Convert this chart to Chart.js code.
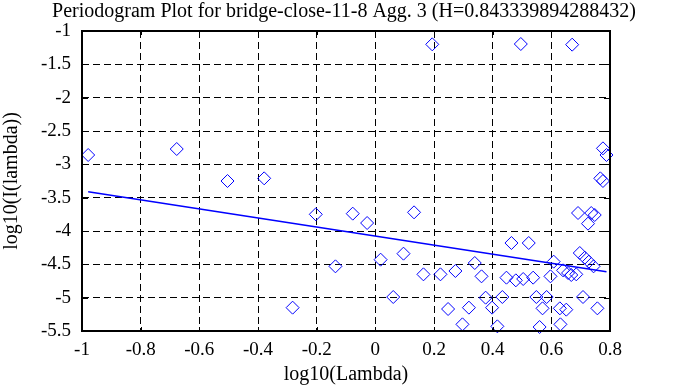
<!DOCTYPE html>
<html>
<head>
<style>
	html, body { margin: 0; padding: 0; background: #fff; }
	#wrap { width: 688px; height: 387px; }
</style>
</head>
<body>
<div id="wrap"><canvas id="myChart" width="688" height="387"></canvas></div>
<script src="https://cdn.jsdelivr.net/npm/chart.js"></script>
<script>
// periodogram points
const logLambda = [-0.979, -0.677, -0.504, -0.379, 0.194, 0.496, 0.671, 0.776, 0.788, 0.767, 0.776,
	-0.203, -0.077, -0.028, 0.132, -0.136, 0.018, 0.096, -0.282, 0.061, 0.164, 0.222, 0.273, 0.248, 0.297,
	0.691, 0.736, 0.748, 0.725, 0.464, 0.523, 0.697, 0.714, 0.728, 0.744, 0.608, 0.339, 0.362, 0.447,
	0.479, 0.504, 0.538, 0.597, 0.640, 0.657, 0.668, 0.685, 0.376, 0.433, 0.549, 0.584, 0.708, 0.319,
	0.398, 0.570, 0.629, 0.651, 0.757, 0.416, 0.560, 0.631]
const logI = [-2.86, -2.77, -3.25, -3.21, -1.20, -1.195, -1.205, -2.76, -2.86, -3.21, -3.25,
	-3.75, -3.74, -3.88, -3.72, -4.53, -4.43, -4.34, -5.15, -4.99, -4.65, -4.65, -4.60, -5.17, -5.40,
	-3.73, -3.73, -3.76, -3.89, -4.18, -4.18, -4.33, -4.40, -4.46, -4.53, -4.46, -4.48, -4.68, -4.70,
	-4.74, -4.72, -4.70, -4.68, -4.59, -4.63, -4.66, -4.65, -5.00, -4.99, -4.99, -4.99, -4.99, -5.15,
	-5.15, -5.16, -5.16, -5.18, -5.16, -5.43, -5.44, -5.40]
// fitted line end points
const fitX = [-0.979, 0.788]
const fitY = [-3.41, -4.61]
const xTicks = [-1, -0.8, -0.6, -0.4, -0.2, 0, 0.2, 0.4, 0.6, 0.8]
const yTicks = [-1, -1.5, -2, -2.5, -3, -3.5, -4, -4.5, -5, -5.5]

const serif = 'Liberation Serif'
const blue = 'rgb(0,0,255)'

// frame on all four sides + little inward ticks
const framePlugin = {
	id: 'frame',
	afterDatasetsDraw(chart) {
		const {ctx, chartArea: a, scales} = chart
		ctx.save()
		ctx.strokeStyle = '#000'
		ctx.lineWidth = 1
		xTicks.forEach(v => {
			const px = Math.round(scales.x.getPixelForValue(v)) + 0.5
			ctx.beginPath(); ctx.moveTo(px, a.top); ctx.lineTo(px, a.top + 4)
			ctx.moveTo(px, a.bottom); ctx.lineTo(px, a.bottom - 4); ctx.stroke()
		})
		yTicks.forEach(v => {
			const py = Math.round(scales.y.getPixelForValue(v)) + 0.5
			ctx.beginPath(); ctx.moveTo(a.left, py); ctx.lineTo(a.left + 6, py)
			ctx.moveTo(a.right, py); ctx.lineTo(a.right - 6, py); ctx.stroke()
		})
		ctx.lineWidth = 2
		ctx.strokeRect(a.left, a.top, a.right - a.left, a.bottom - a.top)
		ctx.restore()
	}
}

const data = {
	datasets: [
		{
			type: 'scatter',
			data: logLambda.map((x, i) => ({x: x, y: logI[i]})),
			pointStyle: 'rectRot',
			pointRadius: 6.5,
			pointBorderWidth: 1,
			borderColor: blue,
			backgroundColor: 'rgba(0,0,0,0)',
			clip: false,
		},
		{
			type: 'line',
			data: fitX.map((x, i) => ({x: x, y: fitY[i]})),
			borderColor: blue,
			borderWidth: 1.5,
			pointRadius: 0,
			fill: false,
		}
	]
}

const config = {
	type: 'scatter',
	data: data,
	options: {
		responsive: false,
		animation: false,
		layout: {padding: 0},
		plugins: {
			legend: {display: false},
			tooltip: {enabled: false},
			title: {
				display: true,
				text: 'Periodogram Plot for bridge-close-11-8 Agg. 3 (H=0.843339894288432)',
				color: '#000',
				font: {family: serif, size: 20, weight: 'normal'},
				padding: {top: 0, bottom: 7},
			}
		},
		scales: {
			x: {
				type: 'linear',
				min: -1, max: 0.8,
				afterBuildTicks: s => { s.ticks = xTicks.map(v => ({value: v})) },
				afterFit: s => { s.height = 56 },
				ticks: {
					color: '#000', font: {family: serif, size: 19}, padding: 8, maxRotation: 0,
					callback: v => String(Math.round(v * 10) / 10)
				},
				grid: {color: '#000', lineWidth: 1, drawTicks: false},
				border: {display: false, dash: [7, 4]},
				title: {display: true, text: 'log10(Lambda)', color: '#000', font: {family: serif, size: 20}, padding: {top: 0, bottom: 0}}
			},
			y: {
				type: 'linear',
				min: -5.5, max: -1,
				afterBuildTicks: s => { s.ticks = yTicks.map(v => ({value: v})) },
				afterFit: s => { s.width = 82 },
				ticks: {
					color: '#000', font: {family: serif, size: 19}, padding: 11,
					callback: v => String(Math.round(v * 10) / 10)
				},
				grid: {color: '#000', lineWidth: 1, drawTicks: false},
				border: {display: false, dash: [7, 4]},
				title: {display: true, text: 'log10(I(lambda))', color: '#000', font: {family: serif, size: 20}, padding: {top: 0, bottom: 2}}
			},
			// empty strip on the right so the plot ends where the reference does
			yr: {
				type: 'linear',
				position: 'right',
				min: -5.5, max: -1,
				afterFit: s => { s.width = 78 },
				ticks: {display: false},
				grid: {display: false, drawTicks: false},
				border: {display: false}
			}
		}
	},
	plugins: [framePlugin]
}

const myChart = new Chart(document.getElementById('myChart'), config)
</script>
</body>
</html>
